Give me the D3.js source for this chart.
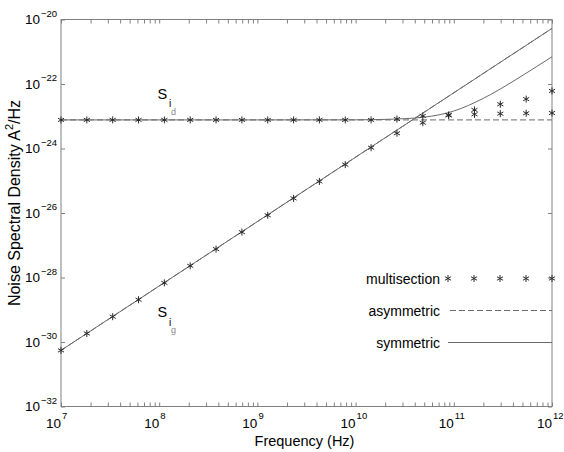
<!DOCTYPE html>
<html>
<head>
<meta charset="utf-8">
<script src="https://cdn.jsdelivr.net/npm/d3@7"></script>
<style>
  body { margin: 0; background: #fff; }
  text { font-family: "Liberation Sans", Arial, Helvetica, sans-serif; fill: #000; }
</style>
</head>
<body>
<div id="chart"></div>
<script>
// frequencies of the multisection points (Hz)
var freqs = [1e7, 1.833e7, 3.36e7, 6.159e7, 1.129e8, 2.069e8, 3.793e8, 6.952e8, 1.274e9, 2.336e9,
             4.281e9, 7.848e9, 1.438e10, 2.637e10, 4.833e10, 8.859e10, 1.624e11, 2.976e11, 5.456e11, 1e12];
// multisection model, drain and gate noise (A^2/Hz)
var msSd = [7.7e-24, 7.7e-24, 7.7e-24, 7.7e-24, 7.7e-24, 7.7e-24, 7.7e-24, 7.7e-24, 7.7e-24, 7.7e-24,
            7.7e-24, 7.7e-24, 7.7e-24, 8.2e-24, 1.02e-23, 1.1e-23, 1.57e-23, 2.36e-23, 3.4e-23, 6.1e-23];
var msSg = [5.5e-31, 1.84e-30, 6.1e-30, 2.05e-29, 6.8e-29, 2.3e-28, 7.6e-28, 2.55e-27, 8.5e-27, 2.84e-26,
            9.5e-26, 3.16e-25, 1.06e-24, 2.98e-24, 6.3e-24, 1.06e-23, 1.15e-23, 1.2e-23, 1.24e-23, 1.26e-23];
// symmetric model
var symSgF = [1e7, 1e12];
var symSgV = [5.5e-31, 5.3e-21];
var symSdF = [1e7, 1e9, 1e10, 2e10, 5e10, 1e11, 2e11, 4e11, 7e11, 1e12];
var symSdV = [7.7e-24, 7.7e-24, 7.75e-24, 8.0e-24, 9.4e-24, 1.45e-23, 3.6e-23, 1.2e-22, 3.5e-22, 7.0e-22];
// asymmetric model
var asymSdF = [1e7, 1e12];
var asymSdV = [7.7e-24, 7.7e-24];
var asymSgF = [1e7, 1e12];
var asymSgV = [5.5e-31, 5.3e-21];
// tick exponents
var xTickExp = [7, 8, 9, 10, 11, 12];
var yTickExp = [-20, -22, -24, -26, -28, -30, -32];

var margin = {top: 19.5, right: 12, bottom: 45.5, left: 61},
    svgWidth = 564, svgHeight = 452,
    width = svgWidth - margin.left - margin.right,
    height = svgHeight - margin.top - margin.bottom;

var svg = d3.select('#chart').append('svg')
    .attr('width', svgWidth)
    .attr('height', svgHeight);
var g = svg.append('g')
    .attr('transform', `translate(${margin.left}, ${margin.top})`);

var x = d3.scaleLog().domain([1e7, 1e12]).range([0, width]);
var y = d3.scaleLog().domain([1e-32, 1e-20]).range([height, 0]);

var axisColor = '#808080', lineColor = '#6a6a6a', markColor = '#2a2a2a';

// minor ticks for x
var xMinor = [];
xTickExp.slice(0, -1).forEach(function(e) {
    for (var m = 2; m < 10; m++) xMinor.push(m * Math.pow(10, e));
});
var xMajor = xTickExp.map(e => Math.pow(10, e));
var yMajor = yTickExp.map(e => Math.pow(10, e));

function styleAxis(sel) {
    sel.select('.domain').remove();
    sel.selectAll('line').attr('stroke', axisColor);
}
// bottom and top ticks (inward)
g.append('g').attr('transform', `translate(0, ${height})`)
    .call(d3.axisBottom(x).tickValues(xMajor.concat(xMinor)).tickFormat('').tickSize(-4)).call(styleAxis);
g.append('g')
    .call(d3.axisTop(x).tickValues(xMajor.concat(xMinor)).tickFormat('').tickSize(-4)).call(styleAxis);
// left and right ticks
g.append('g')
    .call(d3.axisLeft(y).tickValues(yMajor).tickFormat('').tickSize(-4)).call(styleAxis);
g.append('g').attr('transform', `translate(${width}, 0)`)
    .call(d3.axisRight(y).tickValues(yMajor).tickFormat('').tickSize(-4)).call(styleAxis);

// frame
g.append('rect')
    .attr('width', width).attr('height', height)
    .attr('fill', 'none').attr('stroke', axisColor);

// x tick labels
xTickExp.forEach(function(e) {
    var xx = x(Math.pow(10, e));
    g.append('text').attr('x', xx).attr('y', height + 21)
        .attr('text-anchor', 'end').attr('font-size', 13.5).text('10');
    g.append('text').attr('x', xx + 1).attr('y', height + 12)
        .attr('font-size', 9.5).text(e);
});

// y tick labels
yTickExp.forEach(function(e) {
    var yy = y(Math.pow(10, e));
    g.append('text').attr('x', -4).attr('y', yy - 3)
        .attr('text-anchor', 'end').attr('font-size', 9.5).text('\u2212' + Math.abs(e));
    g.append('text').attr('x', -21).attr('y', yy + 4.5)
        .attr('text-anchor', 'end').attr('font-size', 13.5).text('10');
});

// axis titles
g.append('text')
    .attr('x', width / 2 - 2).attr('y', height + 39)
    .attr('text-anchor', 'middle').attr('font-size', 14.5)
    .text('Frequency (Hz)');
var yt = g.append('text')
    .attr('transform', `translate(${-41}, ${height / 2 - 10}) rotate(-90)`)
    .attr('text-anchor', 'middle').attr('font-size', 16);
yt.append('tspan').text('Noise Spectral Density A');
yt.append('tspan').attr('dy', -7).attr('font-size', 11).text('2');
yt.append('tspan').attr('dy', 7).text('/Hz');

// lines
var line = d3.line().x(d => x(d[0])).y(d => y(d[1]));
var smooth = d3.line().x(d => x(d[0])).y(d => y(d[1])).curve(d3.curveMonotoneX);

g.append('path').datum(d3.zip(asymSdF, asymSdV))
    .attr('fill', 'none').attr('stroke', lineColor).attr('stroke-dasharray', '6,3').attr('d', line);
g.append('path').datum(d3.zip(asymSgF, asymSgV))
    .attr('fill', 'none').attr('stroke', lineColor).attr('stroke-dasharray', '6,3').attr('d', line);
g.append('path').datum(d3.zip(symSgF, symSgV))
    .attr('fill', 'none').attr('stroke', lineColor).attr('d', line);
g.append('path').datum(d3.zip(symSdF, symSdV))
    .attr('fill', 'none').attr('stroke', lineColor).attr('d', smooth);

// multisection markers
var star = d3.symbol().type(d3.symbolAsterisk).size(34);
[msSd, msSg].forEach(function(series) {
    g.append('g').selectAll('path').data(d3.zip(freqs, series)).enter().append('path')
        .attr('transform', d => `translate(${x(d[0])}, ${y(d[1])})`)
        .attr('d', star)
        .attr('fill', 'none').attr('stroke', markColor).attr('stroke-width', 1);
});

// curve labels
function curveLabel(px, py, sub) {
    g.append('text').attr('x', px).attr('y', py).attr('font-size', 14.5).text('S');
    g.append('text').attr('x', px + 11.5).attr('y', py + 8.5).attr('font-size', 10).text('i');
    g.append('text').attr('x', px + 13.5).attr('y', py + 16).attr('font-size', 9)
        .style('fill', '#888').text(sub);
}
curveLabel(96.5, 79, 'd');
curveLabel(96.5, 297.5, 'g');

// legend
var legend = g.append('g').attr('transform', `translate(${379}, ${259})`);
var rows = ['multisection', 'asymmetric', 'symmetric'];
legend.selectAll('text').data(rows).enter().append('text')
    .attr('x', 0).attr('y', (d, i) => i * 32 + 5)
    .attr('text-anchor', 'end').attr('font-size', 14)
    .text(d => d);
[0, 1, 2, 3, 4].forEach(function(i) {
    legend.append('path').attr('transform', `translate(${8 + i * 26}, 0)`)
        .attr('d', star).attr('fill', 'none').attr('stroke', markColor);
});
legend.append('line').attr('x1', 10).attr('x2', width - 379).attr('y1', 32).attr('y2', 32)
    .attr('stroke', lineColor).attr('stroke-dasharray', '6,3');
legend.append('line').attr('x1', 8).attr('x2', width - 379).attr('y1', 64).attr('y2', 64)
    .attr('stroke', lineColor);
</script>
</body>
</html>
